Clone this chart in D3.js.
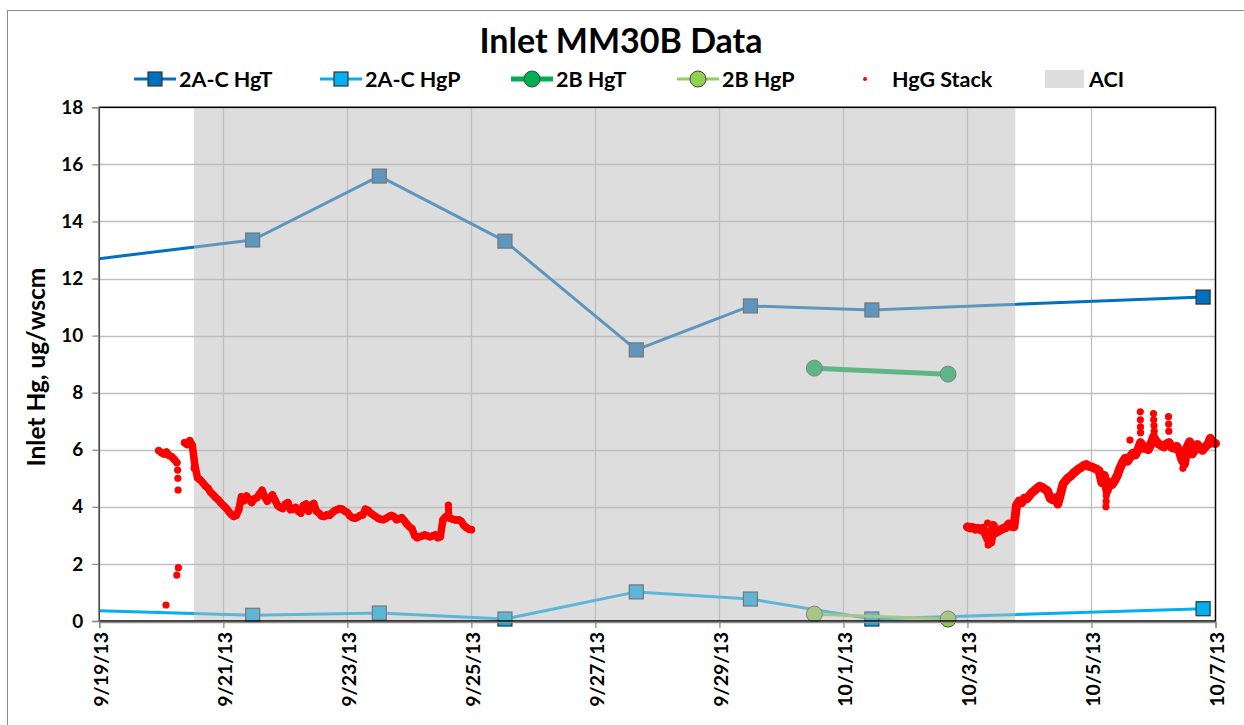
<!DOCTYPE html>
<html>
<head>
<meta charset="utf-8">
<script src="https://cdn.jsdelivr.net/npm/d3@7"></script>
<style>
  body { margin: 0; background: #fff; }
  svg { display: block; }
  text { font-family: Lato, "Open Sans", sans-serif; font-weight: bold; fill: #000; }
</style>
</head>
<body>
<svg id="chart" width="1244" height="725"></svg>
<script>
// ---- Data ---------------------------------------------------------------
// 2A-C probe samples (total and particulate Hg, ug/wscm)
const sampleDates2AC = ["2013-09-17T00:00", "2013-09-21T11:21", "2013-09-23T12:23", "2013-09-25T13:00",
                        "2013-09-27T15:50", "2013-09-29T12:00", "2013-10-01T11:00", "2013-10-06T19:12"];
const hgT2AC = [12.17, 13.35, 15.59, 13.31, 9.50, 11.04, 10.90, 11.35];
const hgP2AC = [0.49, 0.20, 0.28, 0.07, 1.02, 0.77, 0.07, 0.43];

// 2B probe samples
const sampleDates2B = ["2013-09-30T12:45", "2013-10-02T16:30"];
const hgT2B = [8.86, 8.65];
const hgP2B = [0.24, 0.07];

// ACI injection period
const aciStart = "2013-09-20T12:39";
const aciEnd = "2013-10-03T18:29";

// Stack gaseous Hg, hourly readings in three blocks
const stackStartA1 = "2013-09-19T23:00";
const hgStackA1 = [5.97, 5.90, 5.85, 5.92, 5.80, 5.76, 5.66, 5.55];

const stackStartA2 = "2013-09-20T09:00";
const hgStackA2 = [
  6.25, 6.18, 6.32, 6.15, 5.45, 5.02, 4.95, 4.85, 4.74, 4.66,
  4.52, 4.43, 4.33, 4.25, 4.14, 4.05, 3.96, 3.85, 3.74, 3.66,
  3.70, 3.90, 4.35, 4.22, 4.38, 4.25, 4.15, 4.28, 4.32, 4.45,
  4.58, 4.35, 4.20, 4.30, 4.42, 4.24, 4.05, 3.98, 3.94, 4.10,
  4.15, 3.90, 3.92, 3.98, 3.85, 3.78, 4.05, 4.10, 3.85, 4.05,
  4.12, 3.85, 3.78, 3.68, 3.66, 3.72, 3.70, 3.78, 3.86, 3.90,
  3.94, 3.92, 3.85, 3.80, 3.68, 3.62, 3.60, 3.64, 3.70, 3.72,
  3.92, 3.88, 3.78, 3.72, 3.66, 3.60, 3.56, 3.55, 3.60, 3.65,
  3.70, 3.66, 3.55, 3.58, 3.62, 3.52, 3.40, 3.30, 3.24, 3.00,
  2.92, 2.95, 2.98, 3.02, 2.98, 2.95, 2.98, 3.02, 2.92, 2.95,
  3.55, 3.65, 3.62, 3.60, 3.56, 3.54, 3.55, 3.50, 3.36, 3.28,
  3.22, 3.20
];

const stackStartB = "2013-10-03T00:00";
const hgStackB = [
  3.30, 3.26, 3.28, 3.22, 3.25, 3.20, 3.25, 3.05, 2.85, 2.75,
  3.35, 3.10, 3.15, 3.20, 3.25, 3.28, 3.40, 3.32, 3.30, 4.06,
  4.20, 4.15, 4.30, 4.28, 4.40, 4.50, 4.58, 4.66, 4.72, 4.68,
  4.62, 4.55, 4.30, 4.25, 4.32, 4.10, 4.45, 4.80, 4.92, 5.02,
  5.08, 5.18, 5.25, 5.33, 5.38, 5.45, 5.48, 5.42, 5.40, 5.36,
  5.32, 5.25, 4.85, 5.10, 4.55, 4.85, 4.78, 4.92, 5.10, 5.35,
  5.55, 5.70, 5.60, 5.75, 5.88, 5.82, 6.00, 6.25, 6.05, 6.10,
  6.00, 6.20, 6.45, 6.30, 6.20, 6.15, 6.10, 6.20, 6.25, 6.08,
  6.05, 6.12, 5.95, 5.65, 5.50, 6.10, 6.28, 5.85, 6.00, 6.18,
  6.05, 5.98, 6.10, 6.18, 6.40, 6.25, 6.22
];

// Short excursions recorded between the hourly readings
const stackExtraTimes = ["2013-09-20T01:48", "2013-09-20T06:00", "2013-09-20T06:36", "2013-09-20T06:18",
                         "2013-09-20T06:24", "2013-09-20T06:30", "2013-09-20T12:30", "2013-09-20T12:42",
                         "2013-09-24T15:06", "2013-09-24T15:10", "2013-09-24T15:14", "2013-10-03T07:48",
                         "2013-10-03T08:00", "2013-10-03T08:12", "2013-10-05T05:36", "2013-10-05T05:40",
                         "2013-10-05T05:44", "2013-10-05T14:54", "2013-10-05T18:54", "2013-10-05T18:56",
                         "2013-10-05T18:58", "2013-10-05T19:00", "2013-10-06T00:00", "2013-10-06T00:04",
                         "2013-10-06T00:12", "2013-10-06T00:16", "2013-10-06T05:48", "2013-10-06T05:52",
                         "2013-10-06T05:56", "2013-10-06T11:24", "2013-10-06T11:36"];
const stackExtraValues = [0.56, 1.61, 1.87, 5.29, 5.00, 4.59, 5.78, 5.35,
                          4.06, 3.92, 3.80, 3.43, 2.66, 3.00, 4.00, 4.20,
                          4.40, 6.34, 7.33, 7.05, 6.80, 6.60, 7.27, 7.05,
                          6.85, 6.65, 7.16, 6.90, 6.65, 5.35, 5.50];

// Axis ticks
const xTickLabels = ["9/19/13", "9/21/13", "9/23/13", "9/25/13", "9/27/13",
                     "9/29/13", "10/1/13", "10/3/13", "10/5/13", "10/7/13"];
const yTickValues = [0, 2, 4, 6, 8, 10, 12, 14, 16, 18];

// ---- Setup --------------------------------------------------------------
const parseTime = d3.timeParse("%Y-%m-%dT%H:%M");
const parseTick = d3.timeParse("%m/%d/%y");

const plot = { left: 99.3, right: 1215.5, top: 107.3, bottom: 621 };

const x = d3.scaleTime()
  .domain([parseTick(xTickLabels[0]), parseTick(xTickLabels[xTickLabels.length - 1])])
  .range([plot.left, plot.right]);
const y = d3.scaleLinear().domain([0, 18]).range([plot.bottom, plot.top]);

const colors = {
  hgT2AC: "#0070C0",
  hgP2AC: "#00B0F0",
  hgT2B: "#00B050",
  hgP2B: "#92D050",
  stack: "#FF0000",
  aci: "#DDDDDD"
};

const svg = d3.select("#chart");

// Outer chart frame
svg.append("rect")
  .attr("x", 7.5).attr("y", 10.5)
  .attr("width", 1260).attr("height", 740)
  .attr("fill", "#fff").attr("stroke", "#8c8c8c").attr("stroke-width", 1);

svg.append("defs").append("clipPath").attr("id", "plotClip")
  .append("rect")
  .attr("x", plot.left).attr("y", plot.top)
  .attr("width", plot.right - plot.left).attr("height", plot.bottom - plot.top);

// Gridlines
const grid = svg.append("g").attr("class", "grid");
grid.selectAll("line.h").data(yTickValues.slice(1)).join("line")
  .attr("x1", plot.left).attr("x2", plot.right)
  .attr("y1", d => Math.round(y(d)) + 0.5).attr("y2", d => Math.round(y(d)) + 0.5)
  .attr("stroke", "#bfbfbf").attr("stroke-width", 1.3);
grid.selectAll("line.v").data(xTickLabels.slice(1, -1)).join("line")
  .attr("y1", plot.top).attr("y2", plot.bottom)
  .attr("x1", d => Math.round(x(parseTick(d))) + 0.5).attr("x2", d => Math.round(x(parseTick(d))) + 0.5)
  .attr("stroke", "#bfbfbf").attr("stroke-width", 1.3);

// ---- Series -------------------------------------------------------------
function seriesPoints(dates, values) {
  return dates.map((d, i) => ({ t: parseTime(d), v: values[i] }));
}
const lineGen = d3.line().x(d => x(d.t)).y(d => y(d.v));
const inDomain = d => d.t >= x.domain()[0] && d.t <= x.domain()[1];

function drawSeries(points, color, width, marker) {
  const g = svg.append("g");
  g.append("path")
    .attr("clip-path", "url(#plotClip)")
    .attr("d", lineGen(points))
    .attr("fill", "none").attr("stroke", color).attr("stroke-width", width)
    .attr("stroke-linejoin", "round");
  const pts = points.filter(inDomain);
  if (marker === "square") {
    g.selectAll("rect").data(pts).join("rect")
      .attr("x", d => x(d.t) - 7).attr("y", d => y(d.v) - 7)
      .attr("width", 14).attr("height", 14)
      .attr("fill", color).attr("stroke", "#333").attr("stroke-width", 1.2);
  } else {
    g.selectAll("circle").data(pts).join("circle")
      .attr("cx", d => x(d.t)).attr("cy", d => y(d.v)).attr("r", 8)
      .attr("fill", color).attr("stroke", "#444").attr("stroke-width", 1);
  }
}

drawSeries(seriesPoints(sampleDates2AC, hgT2AC), colors.hgT2AC, 3, "square");
drawSeries(seriesPoints(sampleDates2AC, hgP2AC), colors.hgP2AC, 3, "square");
drawSeries(seriesPoints(sampleDates2B, hgT2B), colors.hgT2B, 5, "circle");
drawSeries(seriesPoints(sampleDates2B, hgP2B), colors.hgP2B, 3, "circle");

// ACI period shading (translucent so the series show through)
svg.append("rect")
  .attr("x", x(parseTime(aciStart))).attr("y", plot.top)
  .attr("width", x(parseTime(aciEnd)) - x(parseTime(aciStart)))
  .attr("height", plot.bottom - plot.top)
  .attr("fill", "rgb(187,187,187)").attr("fill-opacity", 0.5);

// Stack HgG readings
function hourly(start, values) {
  const t0 = parseTime(start);
  return values.map((v, i) => ({ t: d3.timeHour.offset(t0, i), v }));
}
const stackBlocks = [
  hourly(stackStartA1, hgStackA1),
  hourly(stackStartA2, hgStackA2),
  hourly(stackStartB, hgStackB)
];
const stackLayer = svg.append("g");
// consecutive readings within a block merge into a thick red trace of dots
stackBlocks.forEach((block, i) => {
  stackLayer.append("path")
    .attr("d", lineGen(block))
    .attr("fill", "none").attr("stroke", colors.stack).attr("stroke-width", i === 2 ? 9 : 7.5)
    .attr("stroke-linejoin", "round").attr("stroke-linecap", "round");
});
stackLayer.selectAll("circle")
  .data([...stackBlocks.flat(), ...seriesPoints(stackExtraTimes, stackExtraValues)])
  .join("circle")
  .attr("cx", d => x(d.t)).attr("cy", d => y(d.v)).attr("r", 3.6)
  .attr("fill", colors.stack);

// ---- Frame and axes -----------------------------------------------------
svg.append("rect")
  .attr("x", plot.left).attr("y", plot.top)
  .attr("width", plot.right - plot.left).attr("height", plot.bottom - plot.top)
  .attr("fill", "none").attr("stroke", "#000").attr("stroke-width", 1.5);

const yAxis = svg.append("g")
  .attr("transform", `translate(${plot.left - 1},0)`)
  .call(d3.axisLeft(y).tickValues(yTickValues).tickSize(6).tickPadding(9).tickFormat(d3.format("d")));
yAxis.select(".domain").attr("stroke", "#8c8c8c").attr("stroke-width", 1.5);
yAxis.selectAll(".tick line").attr("stroke", "#8c8c8c").attr("stroke-width", 1.3);
yAxis.selectAll(".tick text").attr("font-size", 19).attr("font-family", "Lato").attr("font-weight", "bold").attr("fill", "#000");

const xAxis = svg.append("g")
  .attr("transform", `translate(0,${plot.bottom + 1})`)
  .call(d3.axisBottom(x).tickValues(xTickLabels.map(parseTick)).tickSize(6)
    .tickFormat((d, i) => xTickLabels[i]));
xAxis.select(".domain").attr("stroke", "#8c8c8c").attr("stroke-width", 1.5);
xAxis.selectAll(".tick line").attr("stroke", "#8c8c8c").attr("stroke-width", 1.3);
xAxis.selectAll(".tick text")
  .attr("font-size", 19.5).attr("font-family", "Lato").attr("font-weight", "bold").attr("fill", "#000")
  .attr("text-anchor", "end")
  .attr("transform", "translate(1,10) rotate(-90)")
  .attr("x", 0).attr("y", 0).attr("dy", "0.36em");

// Y axis title
svg.append("text")
  .attr("transform", `translate(45,${(plot.top + plot.bottom) / 2 + 3}) rotate(-90)`)
  .attr("text-anchor", "middle")
  .attr("font-size", 24.5)
  .text("Inlet Hg, ug/wscm");

// Chart title
svg.append("text")
  .attr("x", 621).attr("y", 53)
  .attr("text-anchor", "middle")
  .attr("font-size", 34)
  .text("Inlet MM30B Data");

// ---- Legend -------------------------------------------------------------
const legendItems = [
  { label: "2A-C HgT", color: colors.hgT2AC, kind: "square", width: 3, x: 134 },
  { label: "2A-C HgP", color: colors.hgP2AC, kind: "square", width: 3, x: 320 },
  { label: "2B HgT", color: colors.hgT2B, kind: "circle", width: 5, x: 511 },
  { label: "2B HgP", color: colors.hgP2B, kind: "circle", width: 3, x: 677 },
  { label: "HgG Stack", color: colors.stack, kind: "dot", width: 0, x: 845 },
  { label: "ACI", color: colors.aci, kind: "area", width: 0, x: 1045 }
];
const legendY = 79;
const legend = svg.append("g");
legendItems.forEach(item => {
  const g = legend.append("g").attr("transform", `translate(${item.x},${legendY})`);
  if (item.kind === "square" || item.kind === "circle") {
    g.append("line").attr("x1", 0).attr("x2", 42).attr("y1", 0).attr("y2", 0)
      .attr("stroke", item.color).attr("stroke-width", item.width);
    if (item.kind === "square") {
      g.append("rect").attr("x", 21 - 7).attr("y", -7).attr("width", 14).attr("height", 14)
        .attr("fill", item.color).attr("stroke", "#333").attr("stroke-width", 1.2);
    } else {
      g.append("circle").attr("cx", 21).attr("cy", 0).attr("r", 8)
        .attr("fill", item.color).attr("stroke", "#444").attr("stroke-width", 1);
    }
    g.append("text").attr("x", 45).attr("y", 0).attr("dy", "0.35em").attr("font-size", 21.5).text(item.label);
  } else if (item.kind === "dot") {
    g.append("circle").attr("cx", 20).attr("cy", 0).attr("r", 2).attr("fill", item.color);
    g.append("text").attr("x", 47).attr("y", 0).attr("dy", "0.35em").attr("font-size", 21.5).text(item.label);
  } else {
    g.append("rect").attr("x", 0).attr("y", -9).attr("width", 39).attr("height", 18).attr("fill", item.color);
    g.append("text").attr("x", 44).attr("y", 0).attr("dy", "0.35em").attr("font-size", 21.5).text(item.label);
  }
});
</script>
</body>
</html>
